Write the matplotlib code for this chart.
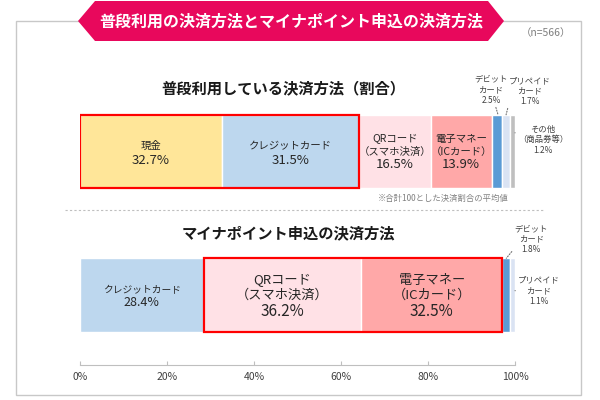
import matplotlib
matplotlib.use('Agg')
import matplotlib.pyplot as plt
from matplotlib.patches import Polygon, Rectangle
from matplotlib.lines import Line2D

plt.rcParams['font.family'] = ['Noto Sans CJK JP', 'DejaVu Sans']

# data
title = '普段利用の決済方法とマイナポイント申込の決済方法'
sub1 = '普段利用している決済方法（割合）'
sub2 = 'マイナポイント申込の決済方法'
cats1 = ['現金', 'クレジットカード', 'QRコード\n（スマホ決済）', '電子マネー\n（ICカード）',
         'デビット\nカード', 'プリペイド\nカード', 'その他\n（商品券等）']
vals1 = [32.7, 31.5, 16.5, 13.9, 2.5, 1.7, 1.2]
cats2 = ['クレジットカード', 'QRコード\n（スマホ決済）', '電子マネー\n（ICカード）',
         'デビット\nカード', 'プリペイド\nカード']
vals2 = [28.4, 36.2, 32.5, 1.8, 1.1]
xticks = [0, 20, 40, 60, 80, 100]

col1 = ['#FFE699', '#BDD7EE', '#FFE1E6', '#FFA8A8', '#5B9BD5', '#DAE3F3', '#BFBFBF']
col2 = ['#BDD7EE', '#FFE1E6', '#FFA8A8', '#5B9BD5', '#DAE3F3']

W, H = 600, 400
def fx(px):
    return px / W
def fy(py):
    return 1 - py / H

fig = plt.figure(figsize=(6, 4), dpi=100)
fig.patch.set_facecolor('white')

# frame + banner
fig.add_artist(Rectangle((fx(16), fy(395)), fx(581) - fx(16), fy(21) - fy(395),
                         transform=fig.transFigure, fill=False, ec='#C8C8C8', lw=1))
pts = [(78, 21), (95, 1), (488, 1), (504, 21), (488, 41), (95, 41)]
fig.add_artist(Polygon([(fx(a), fy(b)) for a, b in pts], closed=True,
                       transform=fig.transFigure, fc='#E8085C', ec='none'))
fig.text(fx(291), fy(21), title, color='white', fontsize=11.5, fontweight='bold',
         ha='center', va='center')
fig.text(fx(546), fy(33), '（n=566）', color='#7F7F7F', fontsize=7.5, ha='center', va='center')

fig.text(fx(283), fy(88), sub1, fontsize=11, fontweight='bold', ha='center', va='center', color='#1A1A1A')
fig.text(fx(288), fy(233), sub2, fontsize=11, fontweight='bold', ha='center', va='center', color='#1A1A1A')
fig.text(fx(443), fy(198), '※合計100とした決済割合の平均値', fontsize=6, color='#808080',
         ha='center', va='center')
fig.add_artist(Line2D([fx(65), fx(543)], [fy(210), fy(210)], transform=fig.transFigure,
                      color='#BFBFBF', lw=0.8, ls=(0, (2, 2))))

ax = fig.add_axes([fx(80), fy(365), fx(515) - fx(80), fy(40) - fy(365)])
ax.set_xlim(0, 100)
ax.set_ylim(-70 / 143.5, 255 / 143.5)
h = 0.512
y1, y2 = 1, 0


def draw_bar(y, vals, cols):
    left = 0
    lefts = []
    for v, c in zip(vals, cols):
        ax.barh(y, v, left=left, height=h, color=c, edgecolor='white', linewidth=1)
        lefts.append(left)
        left += v
    return lefts


def inner(x, y, name, val, fs_n, fs_v, step, shift=0):
    lines = name.split('\n')
    n = len(lines) + 1
    for i, ln in enumerate(lines + [val]):
        off = ((n - 1) / 2 - i) * step - shift
        ax.annotate(ln, (x, y), xytext=(0, off), textcoords='offset pixels',
                    ha='center', va='center', color='#262626',
                    fontsize=fs_v if i == n - 1 else fs_n)


def outer(xy, name, val, off, relpos):
    ax.annotate(name + '\n' + val, xy, xytext=off, textcoords='offset pixels',
                ha='center', va='center', fontsize=6, color='#404040', linespacing=1.2,
                arrowprops=dict(arrowstyle='-', ls=(0, (1, 1.5)), color='#707070', lw=0.8,
                                shrinkA=0, shrinkB=0, relpos=relpos),
                annotation_clip=False)


l1 = draw_bar(y1, vals1, col1)
l2 = draw_bar(y2, vals2, col2)
pct = lambda v: f'{v:.1f}%'

inner(l1[0] + vals1[0] / 2, y1, cats1[0], pct(vals1[0]), 7.5, 9.5, 15, 2)
inner(l1[1] + vals1[1] / 2, y1, cats1[1], pct(vals1[1]), 7.5, 9.5, 15, 2)
inner(l1[2] + vals1[2] / 2, y1, cats1[2], pct(vals1[2]), 7.5, 9.5, 13, 0.5)
inner(l1[3] + vals1[3] / 2, y1, cats1[3], pct(vals1[3]), 7.5, 9.5, 13, 0.5)
inner(l2[0] + vals2[0] / 2, y2, cats2[0], pct(vals2[0]), 7, 9, 12, 1)
inner(l2[1] + vals2[1] / 2, y2, cats2[1], pct(vals2[1]), 9.5, 11, 15.5, 0.5)
inner(l2[2] + vals2[2] / 2, y2, cats2[2], pct(vals2[2]), 9.5, 11, 15.5, 0.5)

top1 = y1 + h / 2
top2 = y2 + h / 2
outer((l1[4] + vals1[4] * 0.6, top1), cats1[4], pct(vals1[4]), (-7, 25), (0.62, 0))
outer((l1[5] + vals1[5] / 2, top1), cats1[5], pct(vals1[5]), (24, 24), (0.0, 0.1))
outer((l1[6] + vals1[6], y1 + 0.13), cats1[6], pct(vals1[6]), (28, -7), (0.0, 0.8))
outer((l2[3] + vals2[3] / 2, top2), cats2[3], pct(vals2[3]), (25, 19), (0.0, 0.2))
outer((l2[4] + vals2[4], y2 + 0.03), cats2[4], pct(vals2[4]), (24, 0), (0.0, 0.5))

# red boxes
ax.add_patch(Rectangle((0, y1 - h / 2), vals1[0] + vals1[1], h, fill=False,
                       ec='#FF0000', lw=1.6, zorder=5))
ax.add_patch(Rectangle((l2[1], y2 - h / 2), vals2[1] + vals2[2], h, fill=False,
                       ec='#FF0000', lw=1.6, zorder=5))

ax.set_xticks(xticks)
ax.set_xticklabels([f'{t}%' for t in xticks], fontsize=7.5, color='#404040')
ax.set_yticks([])
for s in ['top', 'left', 'right']:
    ax.spines[s].set_visible(False)
ax.spines['bottom'].set_color('#BFBFBF')
ax.tick_params(axis='x', direction='in', length=3, color='#BFBFBF', pad=5)
ax.patch.set_alpha(0)

plt.savefig('out.png', dpi=100)
